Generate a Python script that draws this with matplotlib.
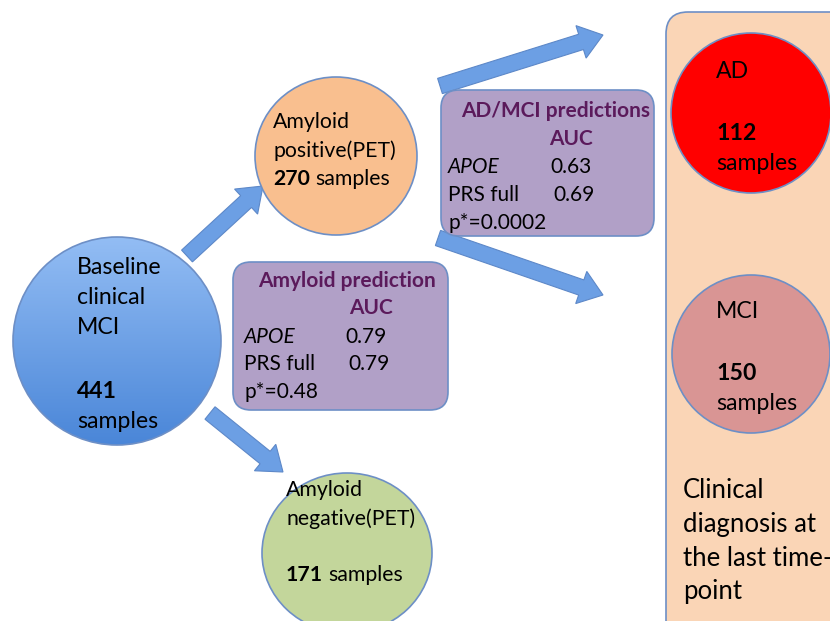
import numpy as np
import matplotlib
matplotlib.use("Agg")
import matplotlib.pyplot as plt
from matplotlib.patches import Circle, Ellipse, FancyBboxPatch, FancyArrow

# sample counts per group
n_baseline = 441
n_amy_pos = 270
n_amy_neg = 171
n_ad = 112
n_mci = 150

# AUC values (APOE, PRS full) and p values
auc_amyloid = [0.79, 0.79]
p_amyloid = "0.48"
auc_admci = [0.63, 0.69]
p_admci = "0.0002"

FONT = "Lato"
plt.rcParams['font.family'] = [FONT, 'DejaVu Sans']

fig = plt.figure(figsize=(8.3, 6.21), dpi=100)
ax = fig.add_axes([0, 0, 1, 1])
ax.set_xlim(0, 830)
ax.set_ylim(621, 0)
ax.axis('off')

edge = '#6d8fc6'
purple_txt = '#5b1a5b'

# right panel
ax.add_patch(FancyBboxPatch((666, 12), 190, 640, boxstyle="round,pad=0,rounding_size=22",
                            fc='#fad5b6', ec=edge, lw=1.2, zorder=1))

# arrows
arrow_kw = dict(width=16, head_width=34, head_length=23, length_includes_head=True,
                fc='#6c9fe4', ec='#5d88c8', lw=0.8, zorder=2)
for (x0, y0), (x1, y1) in [((187, 256), (263, 186)), ((210, 413), (283, 472)),
                           ((440, 86), (603, 35)), ((438, 238), (603, 295))]:
    ax.add_patch(FancyArrow(x0, y0, x1 - x0, y1 - y0, **arrow_kw))

# baseline circle with gradient
circ = Circle((117, 341), 104, fc='none', ec=edge, lw=1.2, zorder=4)
ax.add_patch(circ)
grad = np.linspace(0, 1, 256).reshape(-1, 1)
cmap = matplotlib.colors.LinearSegmentedColormap.from_list('b', ['#93bdf4', '#4a86d8'])
im = ax.imshow(grad, extent=(13, 221, 445, 237), cmap=cmap, aspect='auto', zorder=3)
im.set_clip_path(circ)
ax.set_xlim(0, 830)
ax.set_ylim(621, 0)

ax.add_patch(Ellipse((336, 156), 162, 158, fc='#f9bf8f', ec=edge, lw=1.2, zorder=3))
ax.add_patch(Ellipse((347, 553), 170, 160, fc='#c3d69b', ec=edge, lw=1.2, zorder=3))
ax.add_patch(Circle((751, 113), 80, fc='#ff0000', ec=edge, lw=1.2, zorder=3))
ax.add_patch(Circle((751, 354), 79, fc='#d99594', ec=edge, lw=1.2, zorder=3))

# prediction boxes
ax.add_patch(FancyBboxPatch((441, 90), 213, 146, boxstyle="round,pad=0,rounding_size=18",
                            fc='#b1a0c7', ec=edge, lw=1.2, zorder=3))
ax.add_patch(FancyBboxPatch((233, 262), 215, 148, boxstyle="round,pad=0,rounding_size=18",
                            fc='#b1a0c7', ec=edge, lw=1.2, zorder=3))

renderer = fig.canvas.get_renderer()


def txt(x, y, s, size=14, **kw):
    return ax.text(x, y, s, fontsize=size, va='center', ha=kw.pop('ha', 'left'), zorder=6, **kw)


def count_line(x, y, n, size):
    # bold count followed by " samples"
    t = txt(x, y, str(n), size, fontweight='bold')
    bb = t.get_window_extent(renderer).transformed(ax.transData.inverted())
    txt(max(bb.x0, bb.x1) + size * 0.35, y, "samples", size)


# baseline text
for i, s in enumerate(["Baseline", "clinical", "MCI"]):
    txt(77, 268 + 30 * i, s, 16.6)
txt(77, 392, str(n_baseline), 16.6, fontweight='bold')
txt(77, 422, "samples", 16.6)

# amyloid positive
txt(273, 122, "Amyloid", 15.3)
txt(273, 151, "positive(PET)", 15.3)
count_line(273, 179, n_amy_pos, 15.3)

# amyloid negative
txt(286, 490, "Amyloid", 15.3)
txt(286, 519, "negative(PET)", 15.3)
count_line(286, 575, n_amy_neg, 15.3)

# AD / MCI circles
txt(716, 72, "AD", 16.6)
txt(716, 134, str(n_ad), 16.6, fontweight='bold')
txt(716, 164, "samples", 16.6)
txt(716, 312, "MCI", 16.6)
txt(716, 373, str(n_mci), 16.6, fontweight='bold')
txt(716, 404, "samples", 16.6)

for i, s in enumerate(["Clinical", "diagnosis at", "the last time-", "point"]):
    txt(683, 491 + 33.5 * i, s, 18.5)

# AD/MCI prediction box
txt(556, 111, "AD/MCI predictions", 15, ha='center', fontweight='bold', color=purple_txt)
txt(571, 139, "AUC", 15, ha='center', fontweight='bold', color=purple_txt)
txt(448, 167, "APOE", 15, style='italic')
txt(550, 167, f"{auc_admci[0]:.2f}", 15)
txt(448, 195, "PRS full", 15)
txt(553, 195, f"{auc_admci[1]:.2f}", 15)
txt(448, 223, "p*=" + p_admci, 15)

# amyloid prediction box
txt(347, 281, "Amyloid prediction", 15, ha='center', fontweight='bold', color=purple_txt)
txt(371, 308, "AUC", 15, ha='center', fontweight='bold', color=purple_txt)
txt(244, 337, "APOE", 15, style='italic')
txt(345, 337, f"{auc_amyloid[0]:.2f}", 15)
txt(244, 364, "PRS full", 15)
txt(348, 364, f"{auc_amyloid[1]:.2f}", 15)
txt(244, 392, "p*=" + p_amyloid, 15)

fig.savefig("out.png", dpi=100)
